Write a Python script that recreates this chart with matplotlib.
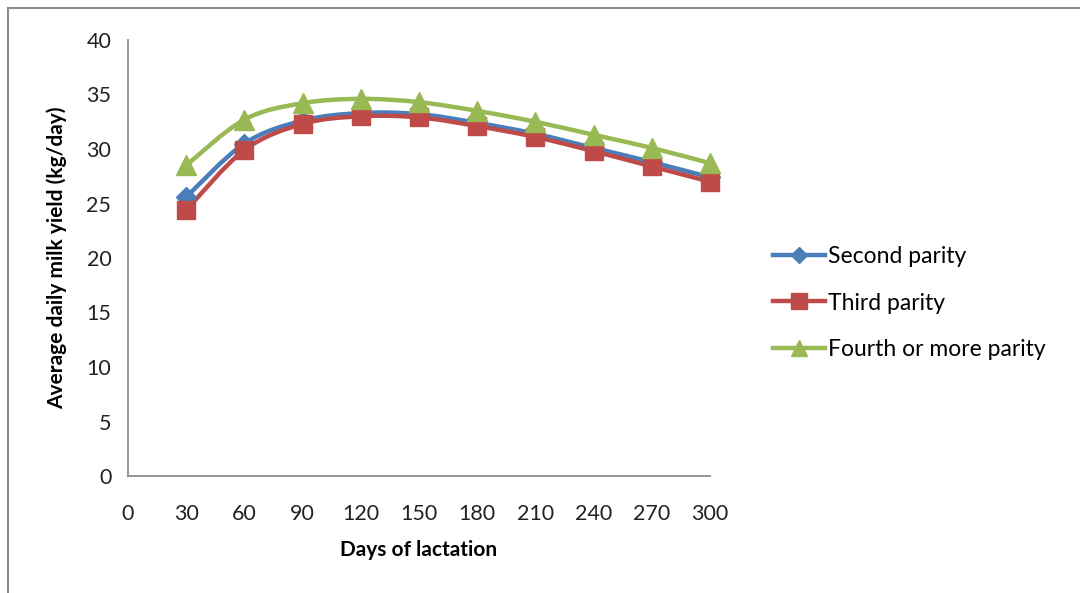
import matplotlib.pyplot as plt
from matplotlib.path import Path
from matplotlib.patches import PathPatch, Rectangle
from matplotlib.lines import Line2D

days = [30, 60, 90, 120, 150, 180, 210, 240, 270, 300]
second_parity = [25.6, 30.5, 32.6, 33.3, 33.2, 32.4, 31.4, 30.1, 28.8, 27.4]
third_parity = [24.4, 29.9, 32.3, 33.0, 32.9, 32.1, 31.1, 29.8, 28.4, 27.0]
fourth_parity = [28.5, 32.7, 34.2, 34.6, 34.3, 33.5, 32.5, 31.3, 30.1, 28.7]

series = [
    ("Second parity", second_parity, "#4A7EBB", "D", 10),
    ("Third parity", third_parity, "#BE4B48", "s", 13),
    ("Fourth or more parity", fourth_parity, "#98B954", "^", 14),
]


def smooth_path(xs, ys):
    """Excel-style smoothed line as cubic Bezier segments through the points."""
    pts = list(zip(xs, ys))
    verts = [pts[0]]
    codes = [Path.MOVETO]
    n = len(pts)
    for i in range(n - 1):
        p0 = pts[i - 1] if i > 0 else pts[i]
        p1 = pts[i]
        p2 = pts[i + 1]
        p3 = pts[i + 2] if i + 2 < n else pts[i + 1]
        c1 = (p1[0] + (p2[0] - p0[0]) / 6, p1[1] + (p2[1] - p0[1]) / 6)
        c2 = (p2[0] - (p3[0] - p1[0]) / 6, p2[1] - (p3[1] - p1[1]) / 6)
        verts += [c1, c2, p2]
        codes += [Path.CURVE4] * 3
    return Path(verts, codes)


plt.rcParams['font.family'] = ['Lato', 'DejaVu Sans']

fig = plt.figure(figsize=(10.8, 5.93), dpi=100)
ax = fig.add_axes([128 / 1080, 117 / 593, 582 / 1080, 436 / 593])

# outer chart frame (top and left edges visible)
fig.patches.append(Rectangle((8 / 1080, -0.2), 1.2, 0.2 + 585 / 593,
                             transform=fig.transFigure, fill=False,
                             edgecolor="#8c8c8c", linewidth=1.5))

handles = []
for label, vals, color, marker, ms in series:
    ax.add_patch(PathPatch(smooth_path(days, vals), fill=False,
                           edgecolor=color, linewidth=3.2,
                           capstyle='round', zorder=2, clip_on=False))
    ax.plot(days, vals, linestyle='none', marker=marker, markersize=ms,
            color=color, zorder=3, clip_on=False)
    handles.append(Line2D([], [], color=color, linewidth=3.2,
                          marker=marker, markersize=ms * 0.85, label=label))

ax.set_xlim(0, 300)
ax.set_ylim(0, 40)
ax.set_xticks(range(0, 301, 30))
ax.set_yticks(range(0, 41, 5))
ax.tick_params(length=0, labelsize=15.5, colors="#222222", pad=12)
ax.tick_params(axis='x', pad=20)
for side in ['top', 'right']:
    ax.spines[side].set_visible(False)
for side in ['left', 'bottom']:
    ax.spines[side].set_color("#8c8c8c")
    ax.spines[side].set_linewidth(1.3)

ax.set_xlabel("Days of lactation", fontsize=15, fontweight='bold', labelpad=12)
ax.set_ylabel("Average daily milk yield (kg/day)", fontsize=15,
              fontweight='bold', labelpad=14)

fig.legend(handles=handles, loc='center left',
           bbox_to_anchor=(752 / 1080, 1 - 303 / 593), frameon=False,
           fontsize=16.5, handlelength=2.3, handletextpad=0.1,
           labelspacing=1.1)

fig.savefig("out.png", dpi=100)
